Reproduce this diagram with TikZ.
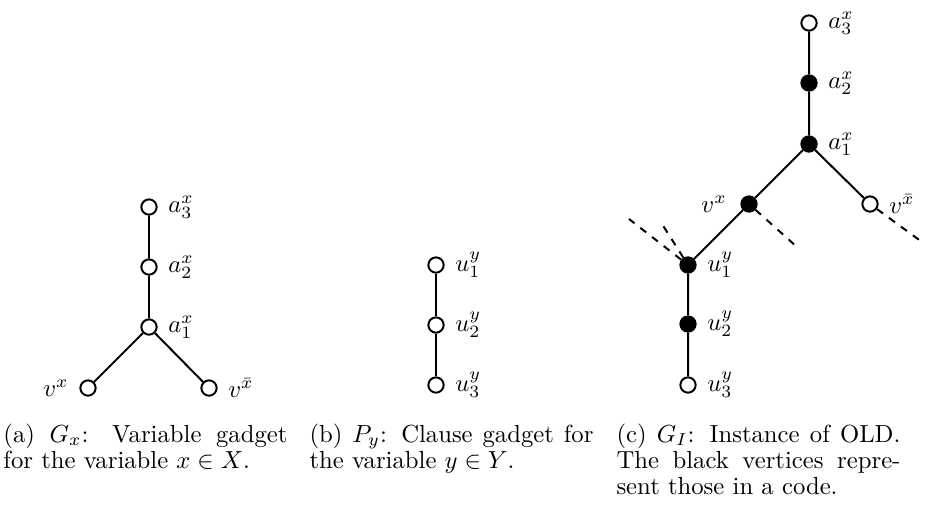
\documentclass[tikz,border=0pt]{standalone}
\usepackage{amssymb}
\begin{document}
\begin{tikzpicture}[x=0.405pt,y=-0.405pt,
  vtx/.style={circle,draw,line width=0.8pt,minimum size=6.2pt,inner sep=0pt,fill=white},
  blk/.style={vtx,fill=black},
  edge/.style={line width=0.8pt},
  dedge/.style={line width=0.8pt,dashed},
  lr/.style={label={[label distance=0.8pt]right:#1}},
  ll/.style={label={[label distance=0.8pt]left:#1}},
  captxt/.style={anchor=base west,inner sep=0pt,font=\fontsize{10}{10.7}\selectfont}]
\useasboundingbox (0,0) rectangle (925,504);
% (a)
\node[vtx,lr={$a_3^x$}] (a3) at (149,207) {};
\node[vtx,lr={$a_2^x$}] (a2) at (149,267) {};
\node[vtx,lr={$a_1^x$}] (a1) at (149,327) {};
\node[vtx,ll={$v^x$}] (vx) at (88,388) {};
\node[vtx,lr={$v^{\bar{x}}$}] (vxb) at (209,388) {};
\draw[edge] (a3) -- (a2) -- (a1) -- (vx);
\draw[edge] (a1) -- (vxb);
% (b)
\node[vtx,lr={$u_1^y$}] (u1) at (436,265) {};
\node[vtx,lr={$u_2^y$}] (u2) at (436,325) {};
\node[vtx,lr={$u_3^y$}] (u3) at (436,385) {};
\draw[edge] (u1) -- (u2) -- (u3);
% (c)
\coordinate (d1) at (797,247);
\coordinate (d2) at (922,242);
\coordinate (d3) at (629,219);
\coordinate (d4) at (662,224);
\node[vtx,lr={$a_3^x$}] (ca3) at (809,23) {};
\node[blk,lr={$a_2^x$}] (ca2) at (809,83) {};
\node[blk,lr={$a_1^x$}] (ca1) at (809,144) {};
\node[blk,label={[label distance=2pt]left:$v^x$}] (cvx) at (749,204) {};
\node[vtx,lr={$v^{\bar{x}}$}] (cvxb) at (870,204) {};
\node[blk,lr={$u_1^y$}] (cu1) at (688,265) {};
\node[blk,lr={$u_2^y$}] (cu2) at (688,324) {};
\node[vtx,lr={$u_3^y$}] (cu3) at (688,385) {};
\draw[edge] (ca3) -- (ca2) -- (ca1) -- (cvx) -- (cu1) -- (cu2) -- (cu3);
\draw[edge] (ca1) -- (cvxb);
\draw[dedge] (cvx) -- (d1);
\draw[dedge] (cvxb) -- (d2);
\draw[dedge] (cu1) -- (d3);
\draw[dedge] (cu1) -- (d4);
% captions
\node[captxt] (capa) at (3,442) {\parbox[t]{115pt}{(a) $G_x$: Variable gadget\linebreak for the variable $x\in X$.}};
\node[captxt] (capb) at (309,442) {\parbox[t]{115pt}{(b) $P_y$: Clause gadget for\linebreak the variable $y\in Y$.}};
\node[captxt] (capc) at (616,442) {\parbox[t]{115pt}{(c) $G_I$: Instance of OLD.\linebreak The black vertices repre-\linebreak sent those in a code.}};
\end{tikzpicture}
\end{document}
